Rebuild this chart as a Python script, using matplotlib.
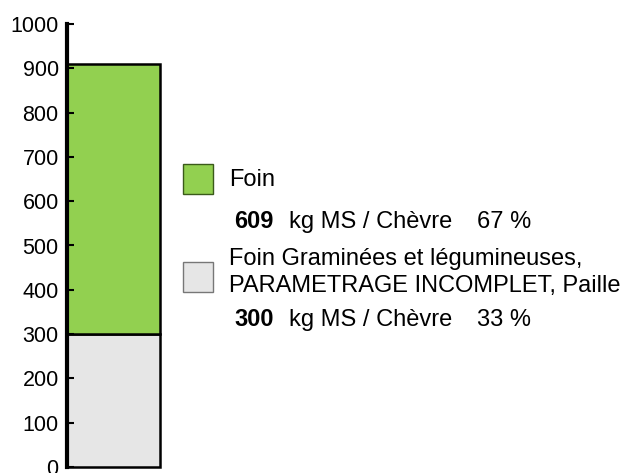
import matplotlib.pyplot as plt

plt.rcParams['font.family'] = ['Liberation Sans', 'DejaVu Sans']

# stacked pieces, bottom to top
labels = ['Foin Graminées et légumineuses,\nPARAMETRAGE INCOMPLET, Paille', 'Foin']
values = [300, 609]
percents = [33, 67]
colors = ['#e6e6e6', '#92d050']
unit = 'kg MS / Chèvre'
yticks = [0, 100, 200, 300, 400, 500, 600, 700, 800, 900, 1000]

W, H = 630, 473
fig = plt.figure(figsize=(W / 100, H / 100), dpi=100)
ax = fig.add_axes([67 / W, 6 / H, 93 / W, (467 - 24) / H])

bottom = 0
for v, c in zip(values, colors):
    ax.bar(0, v, width=1, bottom=bottom, color=c, edgecolor='black', linewidth=1.8,
           clip_on=False)
    bottom += v

ax.set_xlim(-0.5, 0.5)
ax.set_ylim(0, 1000)
ax.set_yticks(yticks)
ax.tick_params(axis='y', direction='in', length=5, width=1.5, labelsize=15.5, pad=6)
ax.set_xticks([])
for s in ['top', 'right', 'bottom']:
    ax.spines[s].set_visible(False)
ax.spines['left'].set_linewidth(3)
ax.patch.set_alpha(0)


def px(x, y):
    return x / W, 1 - y / H


fs = 17
# legend, top entry first
legend_y = [(164, 186, 228), (262, 265, 326)]
edges = {0: '#777777', 1: '#3a5a1a'}
for i, (sq_top, txt_y, val_y) in zip([1, 0], legend_y):
    x0, y0 = px(183, sq_top + 30)
    fig.patches.append(plt.Rectangle((x0, y0), 30 / W, 30 / H, transform=fig.transFigure,
                                     facecolor=colors[i], edgecolor=edges[i], linewidth=1))
    lbl = labels[i]
    if '\n' in lbl:
        first, second = lbl.split('\n')
        fig.text(*px(229, txt_y), first, fontsize=fs, va='baseline')
        fig.text(*px(229, txt_y + 27), second, fontsize=fs, va='baseline')
    else:
        fig.text(*px(229, txt_y), lbl, fontsize=fs, va='baseline')
    fig.text(*px(234, val_y), str(values[i]), fontsize=fs, fontweight='bold', va='baseline')
    fig.text(*px(289, val_y), unit, fontsize=fs, va='baseline')
    fig.text(*px(477, val_y), f'{percents[i]} %', fontsize=fs, va='baseline')

fig.savefig('out.png', dpi=100)
